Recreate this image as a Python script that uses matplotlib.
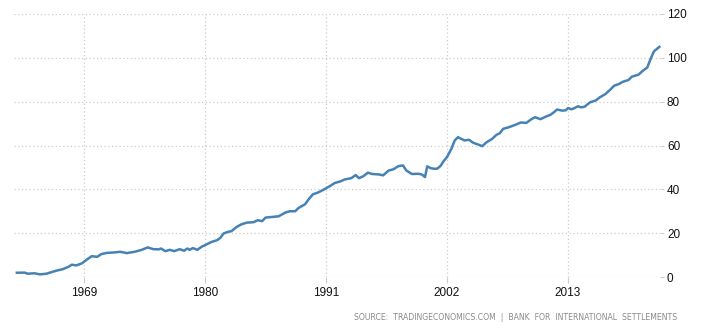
import matplotlib
matplotlib.use("Agg")
import matplotlib.pyplot as plt

# Index level, read by period (decimal year)
years = [
    1962.9, 1963.6, 1963.9, 1964.5, 1965.0, 1965.6, 1965.9, 1966.5, 1967.1, 1967.6,
    1967.9, 1968.3, 1968.8, 1969.2, 1969.7, 1970.2, 1970.6, 1971.1, 1971.7, 1972.3,
    1972.9, 1973.6, 1974.2, 1974.8, 1975.3, 1975.8, 1976.0, 1976.4, 1976.8, 1977.2,
    1977.7, 1978.1, 1978.4, 1978.6, 1978.9, 1979.3, 1979.7, 1980.2, 1980.6, 1981.1,
    1981.4, 1981.7, 1982.1, 1982.4, 1982.9, 1983.3, 1983.8, 1984.4, 1984.8, 1985.2,
    1985.5, 1986.1, 1986.7, 1987.3, 1987.7, 1988.2, 1988.5, 1989.1, 1989.4, 1989.8,
    1990.3, 1990.8, 1991.4, 1991.8, 1992.3, 1992.7, 1993.3, 1993.7, 1994.0, 1994.4,
    1994.8, 1995.2, 1995.8, 1996.2, 1996.7, 1997.1, 1997.6, 1998.0, 1998.3, 1998.8,
    1999.4, 1999.7, 2000.0, 2000.2, 2000.5, 2000.8, 2001.1, 2001.4, 2001.7, 2002.0,
    2002.4, 2002.7, 2003.0, 2003.3, 2003.6, 2004.0, 2004.4, 2004.8, 2005.2, 2005.6,
    2006.1, 2006.5, 2006.8, 2007.1, 2007.6, 2008.2, 2008.7, 2009.2, 2009.7, 2010.0,
    2010.5, 2010.9, 2011.4, 2011.7, 2012.0, 2012.5, 2012.8, 2013.0, 2013.3, 2013.6,
    2013.9, 2014.2, 2014.5, 2015.0, 2015.5, 2015.9, 2016.4, 2016.8, 2017.2, 2017.6,
    2018.0, 2018.5, 2018.8, 2019.4, 2019.8, 2020.2, 2020.5, 2020.8, 2021.3,
]
values = [
    1.95, 2.0, 1.5, 1.7, 1.2, 1.5, 2.0, 2.9, 3.6, 4.7,
    5.6, 5.3, 6.2, 7.7, 9.5, 9.2, 10.5, 11.0, 11.2, 11.5,
    10.9, 11.5, 12.3, 13.5, 12.7, 12.6, 13.0, 11.8, 12.4, 11.8,
    12.7, 12.0, 13.0, 12.4, 13.2, 12.4, 13.8, 15.0, 16.0, 16.8,
    17.9, 19.9, 20.6, 20.9, 22.9, 24.0, 24.8, 25.0, 25.9, 25.5,
    27.1, 27.4, 27.7, 29.4, 30.0, 30.0, 31.5, 33.2, 35.3, 37.7,
    38.6, 39.9, 41.6, 42.9, 43.6, 44.5, 45.1, 46.5, 45.1, 46.0,
    47.6, 47.0, 46.8, 46.4, 48.6, 49.1, 50.6, 50.9, 48.6, 47.0,
    47.1, 46.8, 45.6, 50.5, 49.7, 49.4, 49.4, 50.6, 52.9, 54.7,
    58.5, 62.3, 63.8, 63.0, 62.3, 62.6, 61.2, 60.5, 59.7, 61.5,
    63.0, 64.9, 65.6, 67.6, 68.3, 69.4, 70.5, 70.3, 72.1, 72.9,
    72.0, 73.0, 74.0, 75.1, 76.4, 75.9, 76.1, 77.1, 76.5, 77.1,
    77.9, 77.4, 77.7, 79.7, 80.5, 82.0, 83.5, 85.3, 87.3, 88.0,
    89.1, 89.9, 91.4, 92.3, 94.1, 95.6, 99.4, 102.9, 105.0,
]
x_ticks = [1969, 1980, 1991, 2002, 2013]
y_ticks = [0, 20, 40, 60, 80, 100, 120]
source = "SOURCE:  TRADINGECONOMICS.COM  |  BANK  FOR  INTERNATIONAL  SETTLEMENTS"

fig = plt.figure(figsize=(7.05, 3.32), dpi=100)
ax = fig.add_axes([14 / 705, 55 / 332, 646 / 705, 263 / 332])

ax.plot(years, values, color="#4682B4", linewidth=1.8, clip_on=False,
        solid_joinstyle="round", zorder=3)

ax.set_xlim(1962.64, 2021.36)
ax.set_ylim(0, 120)
ax.set_xticks(x_ticks)
ax.set_yticks(y_ticks)

ax.grid(True, color="#cccccc", linestyle=(0, (1, 2)), linewidth=0.9)
for s in ax.spines.values():
    s.set_visible(False)

ax.yaxis.tick_right()
ax.tick_params(axis="x", length=4, width=0.8, color="#cccccc", pad=3,
               labelsize=8.5, labelcolor="#111111")
ax.tick_params(axis="y", length=3, width=0.8, color="#cccccc", pad=2,
               labelsize=8.5, labelcolor="#111111")
for lbl in ax.get_xticklabels() + ax.get_yticklabels():
    lbl.set_fontfamily("Liberation Sans")

fig.text(677 / 705, 1 - 318 / 332, source, ha="right", va="center",
         fontsize=5.6, color="#8a8a8a", family="DejaVu Sans")

fig.savefig("out.png", dpi=100)
